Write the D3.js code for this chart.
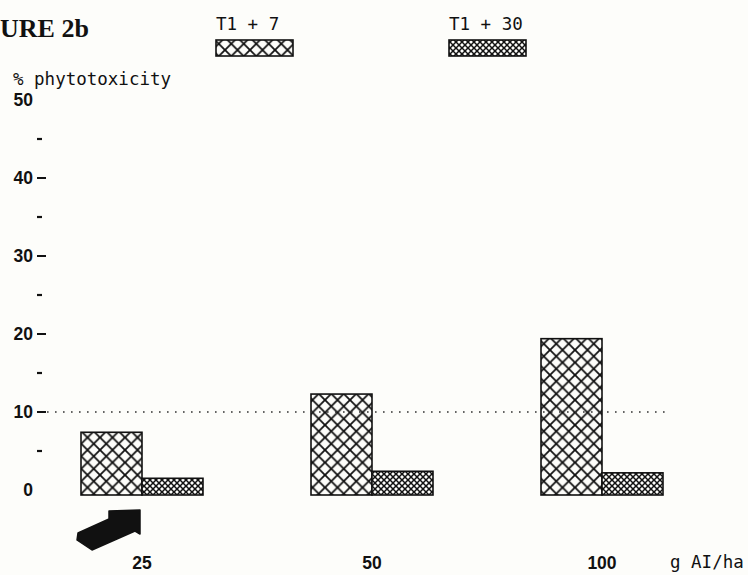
<!DOCTYPE html>
<html>
<head>
<meta charset="utf-8">
<script src="https://cdn.jsdelivr.net/npm/d3@7"></script>
<style>
  html, body { margin: 0; padding: 0; background: #fdfdfa; }
  svg { display: block; }
</style>
</head>
<body>
<div id="chart"></div>
<script>
// ---- data ----
const categories = ["25", "50", "100"];          // g AI/ha
const seriesNames = ["T1 + 7", "T1 + 30"];
const seriesT1p7 = [7.4, 12.3, 19.4];             // % phytotoxicity
const seriesT1p30 = [1.5, 2.4, 2.2];
const yTickLabels = [0, 10, 20, 30, 40, 50];
const yMajorDashes = [10, 20, 30, 40];
const yMinorDashes = [5, 15, 25, 35, 45];
const referenceLevel = [10];

// ---- layout ----
const W = 748, H = 575;
const svg = d3.select("#chart").append("svg").attr("width", W).attr("height", H);
svg.append("rect").attr("width", W).attr("height", H).attr("fill", "#fdfdfa");

const y = d3.scaleLinear().domain([0, 50]).range([490, 100]);
const x = d3.scalePoint().domain(categories).range([142, 602]);
const barW = 61;
const baseOffset = 5;
const baseY = y(0) + baseOffset;

// ---- patterns ----
const defs = svg.append("defs");
function hatch(id, s, sw) {
  const p = defs.append("pattern").attr("id", id).attr("patternUnits", "userSpaceOnUse")
    .attr("width", s).attr("height", s);
  p.append("rect").attr("width", s).attr("height", s).attr("fill", "#fdfdfa");
  p.append("path").attr("d", `M${-s/2},${s/2} L${s/2},${-s/2} M0,${s} L${s},0 M${s/2},${s*1.5} L${s*1.5},${s/2}`)
    .attr("stroke", "#111").attr("stroke-width", sw).attr("fill", "none");
  p.append("path").attr("d", `M${-s/2},${s/2} L${s/2},${s*1.5} M0,0 L${s},${s} M${s/2},${-s/2} L${s*1.5},${s/2}`)
    .attr("stroke", "#111").attr("stroke-width", sw).attr("fill", "none");
}
hatch("coarse", 12.5, 1.8);
hatch("fine", 6, 1.5);
const fills = ["url(#coarse)", "url(#fine)"];

const numFont = "Liberation Sans, Arial, sans-serif";
const monoFont = "DejaVu Sans Mono, monospace";

// ---- title ----
svg.append("text").attr("x", 0).attr("y", 37)
  .attr("font-family", "Liberation Serif, serif").attr("font-size", 26)
  .attr("font-weight", "bold")
  .attr("fill", "#111").text("URE 2b");

// ---- y axis title ----
svg.append("text").attr("x", 13).attr("y", 85)
  .attr("font-family", monoFont).attr("font-size", 17.5)
  .attr("fill", "#111").text("% phytotoxicity");

// ---- y tick labels ----
svg.append("g").selectAll("text").data(yTickLabels).join("text")
  .attr("x", 33).attr("y", d => y(d)).attr("dy", "0.36em")
  .attr("text-anchor", "end")
  .attr("font-family", numFont).attr("font-size", 17.5).attr("font-weight", "bold")
  .attr("fill", "#111").text(d => d);

svg.append("g").selectAll("line").data(yMajorDashes).join("line")
  .attr("x1", 37).attr("x2", 46).attr("y1", d => y(d)).attr("y2", d => y(d))
  .attr("stroke", "#111").attr("stroke-width", 2);

svg.append("g").selectAll("line").data(yMinorDashes).join("line")
  .attr("x1", 37).attr("x2", 42).attr("y1", d => y(d)).attr("y2", d => y(d))
  .attr("stroke", "#111").attr("stroke-width", 2.2);

// ---- bars ----
const series = [seriesT1p7, seriesT1p30];
series.forEach((vals, si) => {
  svg.append("g").selectAll("rect").data(categories).join("rect")
    .attr("x", (c) => x(c) + (si === 0 ? -barW : 0))
    .attr("y", (c, i) => y(vals[i]))
    .attr("width", barW)
    .attr("height", (c, i) => baseY - y(vals[i]))
    .attr("fill", fills[si])
    .attr("stroke", "#111").attr("stroke-width", 1.6);
});

// ---- reference dotted line ----
svg.append("g").selectAll("line").data(referenceLevel).join("line")
  .attr("x1", 47).attr("x2", 668).attr("y1", d => y(d)).attr("y2", d => y(d))
  .attr("stroke", "#333").attr("stroke-width", 1.6)
  .attr("stroke-dasharray", "1.6,6.4");

// ---- x category labels ----
svg.append("g").selectAll("text").data(categories).join("text")
  .attr("x", d => x(d)).attr("y", 569).attr("text-anchor", "middle")
  .attr("font-family", numFont).attr("font-size", 17.5).attr("font-weight", "bold")
  .attr("fill", "#111").text(d => d);

svg.append("text").attr("x", 670).attr("y", 568)
  .attr("font-family", monoFont).attr("font-size", 17.5)
  .attr("fill", "#111").text("g AI/ha");

// ---- arrow under first dose ----
const ax = x(categories[0]);
const arrowPts = [[-64, 38], [-33, 24], [-33, 16], [-2, 15], [-2, 39], [-7, 36], [-50, 55], [-65, 45]];
svg.append("path")
  .attr("d", d3.line()(arrowPts.map(p => [ax + p[0], baseY + p[1]])) + "Z")
  .attr("fill", "#111").attr("stroke", "#111").attr("stroke-linejoin", "round").attr("stroke-width", 1.5);

// ---- legend ----
const legendX = [216, 449];
seriesNames.forEach((name, i) => {
  svg.append("text").attr("x", legendX[i]).attr("y", 30)
    .attr("font-family", monoFont).attr("font-size", 17.5)
    .attr("fill", "#111").text(name);
  svg.append("rect").attr("x", legendX[i]).attr("y", 40).attr("width", 77).attr("height", 16)
    .attr("fill", fills[i]).attr("stroke", "#111").attr("stroke-width", 1.6);
});
</script>
</body>
</html>
